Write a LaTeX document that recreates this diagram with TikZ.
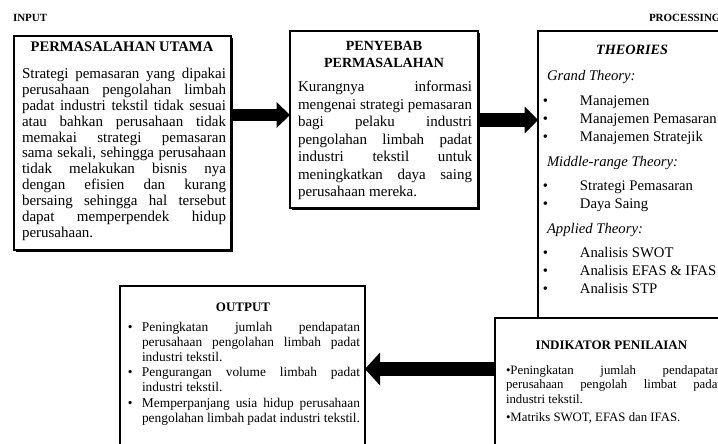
\documentclass[tikz,border=0pt]{standalone}
\usepackage{fontspec}
\setmainfont{Liberation Serif}
\usetikzlibrary{arrows.meta,shadows}
\newcommand\JL[1]{\makebox[\hsize][s]{#1}\par}
\newcommand\BI[1]{\leavevmode\llap{•\hspace{-1pt}}\hspace*{33pt}#1\par}
\newcommand\TB[4]{\vtop{\fontsize{#2}{#3}\selectfont\hsize=#1\relax\parindent=0pt\parskip=0pt\lineskiplimit=-20pt\relax #4}}
\tikzset{
  box/.style={draw, line width=1.5pt, fill=white, inner sep=0pt, outer sep=0pt, anchor=north west},
  sbox/.style={box, drop shadow={shadow xshift=1.6pt, shadow yshift=-1.6pt, opacity=1, fill=black}},
  txt/.style={inner sep=0pt, outer sep=0pt, anchor=base west},
  head/.style={inner sep=0pt, outer sep=0pt, anchor=base},
}
\begin{document}
\begin{tikzpicture}[x=1pt,y=-1pt]
\useasboundingbox (0,0) rectangle (718,444);
\clip (0,0) rectangle (718,444);
\fill[white] (0,0) rectangle (718,444);

% labels
\node[txt, font=\fontsize{11}{13}\selectfont\bfseries] (lin) at (13,21.6) {INPUT};
\node[txt, font=\fontsize{11}{13}\selectfont\bfseries] (lproc) at (649,21.6) {PROCESSING};

% boxes
\node[sbox, minimum width=217pt, minimum height=214pt] (b1) at (14,36) {};
\node[sbox, minimum width=188pt, minimum height=177pt] (b2) at (290,31) {};
\node[box, minimum width=200pt, minimum height=287pt] (b3) at (538,31) {};
\node[box, minimum width=245pt, minimum height=180pt] (b4) at (120,286) {};
\node[box, minimum width=240pt, minimum height=150pt] (b5) at (495,318) {};

% arrows
\draw[line width=11.5pt, -{Triangle[length=13.5pt,width=26pt,line width=0pt]}] (b1.east |- 0,115) -- (b2.west |- 0,115);
\draw[line width=13.4pt, -{Triangle[length=13.3pt,width=26.7pt,line width=0pt]}] (b2.east |- 0,120) -- (b3.west |- 0,120);
\draw[line width=14.5pt, -{Triangle[length=15pt,width=33pt,line width=0pt]}] (b5.west |- 0,369) -- (b4.east |- 0,369);

% box 1
\node[head, font=\fontsize{14.6}{16}\selectfont\bfseries] (h1) at (122,52) {PERMASALAHAN UTAMA};
\node[txt] (t1) at (22,78.5) {\TB{204pt}{15}{15.9}{%
\JL{Strategi pemasaran yang dipakai}
\JL{perusahaan pengolahan limbah}
\JL{padat industri tekstil tidak sesuai}
\JL{atau bahkan perusahaan tidak}
\JL{memakai strategi pemasaran}
\JL{sama sekali, sehingga perusahaan}
\JL{tidak melakukan bisnis nya}
\JL{dengan efisien dan kurang}
\JL{bersaing sehingga hal tersebut}
\JL{dapat memperpendek hidup}
perusahaan.\par}};

% box 2
\node[head, font=\fontsize{14}{16}\selectfont\bfseries] (h2a) at (384,51) {PENYEBAB};
\node[head, font=\fontsize{14}{16}\selectfont\bfseries] (h2b) at (384,68) {PERMASALAHAN};
\node[txt] (t2) at (298,92) {\TB{174pt}{15}{17.5}{%
\JL{Kurangnya informasi}
\JL{mengenai strategi pemasaran}
\JL{bagi pelaku industri}
\JL{pengolahan limbah padat}
\JL{industri tekstil untuk}
\JL{meningkatkan daya saing}
perusahaan mereka.\par}};

% box 3
\node[head, font=\fontsize{14.2}{16}\selectfont\bfseries\itshape] (h3) at (632,55) {THEORIES};
\node[txt] (t3) at (547,81) {\TB{200pt}{14.7}{18.3}{%
\textit{Grand Theory:}\par\vspace{6pt}
\BI{Manajemen}
\BI{Manajemen Pemasaran}
\BI{Manajemen Stratejik}
\vspace{6pt}
\textit{Middle-range Theory:}\par\vspace{6pt}
\BI{Strategi Pemasaran}
\BI{Daya Saing}
\vspace{6pt}
\textit{Applied Theory:}\par\vspace{6pt}
\BI{Analisis SWOT}
\BI{Analisis EFAS \& IFAS}
\BI{Analisis STP}}};

% output
\node[head, font=\fontsize{13}{15}\selectfont\bfseries] (h4) at (243,311) {OUTPUT};
\node[txt] (t4) at (142,331) {\TB{218pt}{13.4}{15.2}{%
\JL{\llap{•\hspace{9.5pt}}Peningkatan jumlah pendapatan}
\JL{perusahaan pengolahan limbah padat}
industri tekstil.\par
\JL{\llap{•\hspace{9.5pt}}Pengurangan volume limbah padat}
industri tekstil.\par
\JL{\llap{•\hspace{9.5pt}}Memperpanjang usia hidup perusahaan}
\JL{pengolahan limbah padat industri tekstil.}}};

% indikator
\node[head, font=\fontsize{13}{15}\selectfont\bfseries] (h5) at (611.5,349.5) {INDIKATOR PENILAIAN};
\node[txt] (t5) at (506,374) {\TB{215pt}{12.8}{14.5}{%
\JL{•Peningkatan jumlah pendapatan}
\JL{perusahaan pengolah limbat padat}
industri tekstil.\par
\vspace{4pt}
•Matriks SWOT, EFAS dan IFAS.\par}};
\end{tikzpicture}
\end{document}
